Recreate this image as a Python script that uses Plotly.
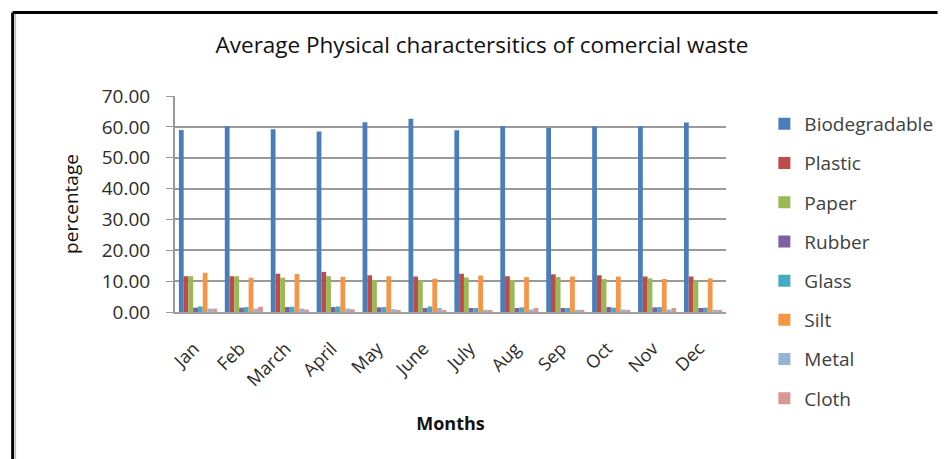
import plotly.graph_objects as go

months = ["Jan", "Feb", "March", "April", "May", "June", "July", "Aug", "Sep", "Oct", "Nov", "Dec"]
biodegradable = [59.0, 60.2, 59.2, 58.5, 61.5, 62.6, 58.9, 60.3, 59.6, 60.1, 60.2, 61.4]
plastic = [11.6, 11.6, 12.4, 13.0, 11.9, 11.5, 12.4, 11.6, 12.2, 11.9, 11.5, 11.5]
paper = [11.6, 11.6, 11.1, 11.6, 10.3, 10.2, 11.2, 10.4, 11.3, 10.7, 10.9, 10.2]
rubber = [1.4, 1.4, 1.6, 1.6, 1.5, 1.3, 1.3, 1.3, 1.3, 1.6, 1.5, 1.3]
glass = [1.8, 1.6, 1.7, 1.8, 1.6, 1.8, 1.3, 1.5, 1.3, 1.4, 1.6, 1.4]
silt = [12.7, 11.1, 12.3, 11.4, 11.6, 10.8, 11.8, 11.3, 11.5, 11.5, 10.7, 10.9]
metal = [1.1, 1.1, 1.1, 1.1, 0.9, 1.3, 0.7, 0.8, 0.7, 0.8, 0.8, 0.7]
cloth = [1.1, 1.7, 0.8, 0.9, 0.6, 0.6, 0.7, 1.3, 0.7, 0.7, 1.3, 0.7]

series = [
    ("Biodegradable", biodegradable, "#4a7ebb"),
    ("Plastic", plastic, "#be4b48"),
    ("Paper", paper, "#98b954"),
    ("Rubber", rubber, "#7d60a0"),
    ("Glass", glass, "#46aac5"),
    ("Silt", silt, "#f69545"),
    ("Metal", metal, "#95b3d7"),
    ("Cloth", cloth, "#d99694"),
]

FONT = "'Open Sans', Lato, sans-serif"
TXT = "#2b2b2b"

fig = go.Figure()
for name, vals, col in series:
    fig.add_trace(go.Bar(
        name=name, x=months, y=vals, legendgroup=name,
        marker=dict(color=col, line=dict(color=col, width=0)),
    ))

L, R, T, B = 175, 215, 96, 147
W, H = 950, 459
pw, ph = W - L - R, H - T - B

def px(x):
    return (x - L) / pw

def py(y):
    return (H - B - y) / ph

fig.update_layout(
    width=W, height=H,
    margin=dict(l=L, r=R, t=T, b=B),
    paper_bgcolor="white", plot_bgcolor="white",
    barmode="group", bargap=0.17, bargroupgap=0.0,
    title=dict(text="Average Physical charactersitics of comercial waste",
               x=px(487), xanchor="center", xref="paper",
               y=1 - 45 / H, yanchor="middle",
               font=dict(family=FONT, size=22.5, color="#111111")),
    font=dict(family=FONT, color=TXT),
    xaxis=dict(
        tickangle=-45, tickfont=dict(size=18, color=TXT),
        showgrid=False, showline=True, linecolor="#a0a0a0", linewidth=2,
        ticks="", ticklabelstandoff=17, ticklabelshift=-4,
        title=dict(text="<b>Months</b>", font=dict(size=18, color="#111111"), standoff=27),
    ),
    yaxis=dict(
        range=[0, 70], dtick=10, tickformat=".2f",
        tickfont=dict(size=19, color=TXT),
        showgrid=True, gridcolor="#9a9a9a", gridwidth=2,
        showline=True, linecolor="#9a9a9a", linewidth=2,
        ticks="outside", ticklen=7, tickcolor="#9a9a9a", tickwidth=1,
        ticklabelstandoff=12,
        zeroline=False,
        title=dict(text="percentage", font=dict(size=19, color="#111111"), standoff=18),
    ),
    legend=dict(
        x=px(774), xanchor="left", y=py(105), yanchor="top",
        font=dict(size=19, color="#404040"),
        tracegroupgap=11.5, itemwidth=30, maxheight=420,
        bgcolor="rgba(0,0,0,0)",
    ),
    showlegend=True,
    shapes=[
        dict(type="line", xref="paper", yref="paper",
             x0=px(10), x1=px(950), y0=py(12.5), y1=py(12.5),
             line=dict(color="black", width=3)),
        dict(type="line", xref="paper", yref="paper",
             x0=px(10), x1=px(10), y0=py(12.5), y1=py(459),
             line=dict(color="black", width=3)),
        dict(type="line", xref="paper", yref="paper",
             x0=px(13), x1=px(13), y0=py(14), y1=py(459),
             line=dict(color="#b0b0b0", width=1)),
    ],
)

fig.write_html("out.html")
